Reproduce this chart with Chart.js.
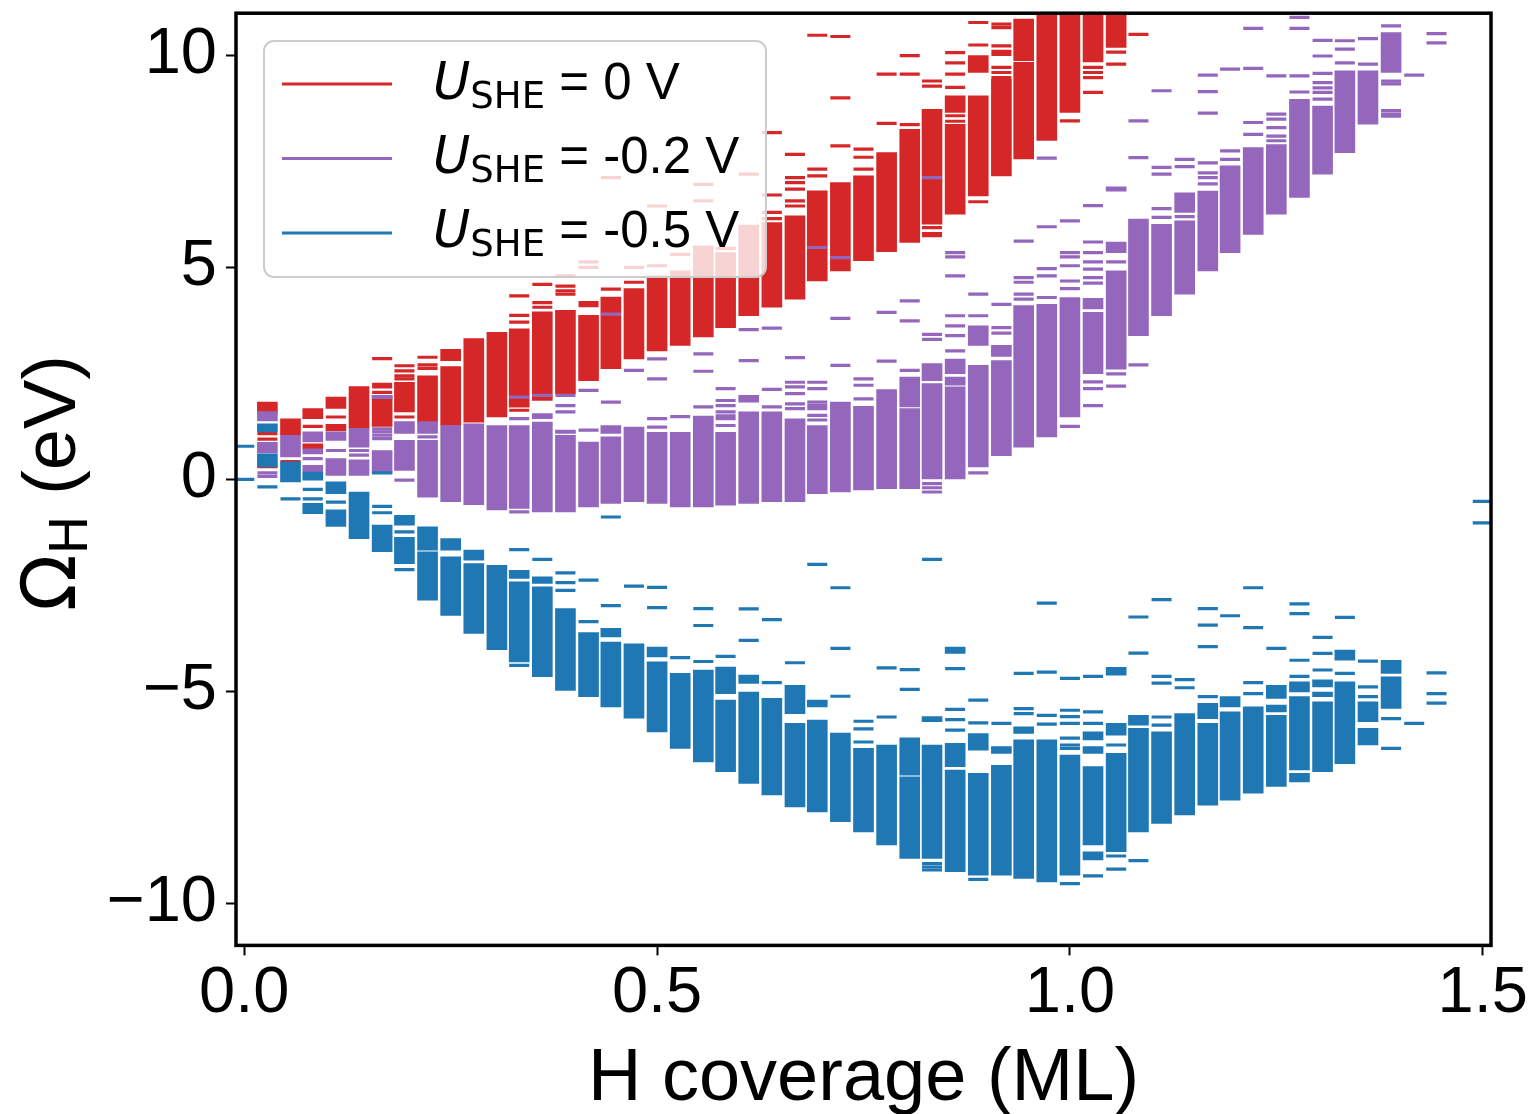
<!DOCTYPE html>
<html>
<head>
<meta charset="utf-8">
<title>H coverage vs Omega_H</title>
<script src="https://cdn.jsdelivr.net/npm/chart.js@4.4.1/dist/chart.umd.min.js"></script>
<style>
    body { margin: 0; background: #fff; }
    #wrap { position: relative; width: 1529px; height: 1114px; }
    #chart { position: absolute; left: 0; top: 0; }
    #overlay { position: absolute; left: 0; top: 0; pointer-events: none; }
    #overlay text { white-space: pre; }
</style>
</head>
<body>
<div id="wrap">
    <canvas id="chart" width="1529" height="1114"></canvas>
    <svg id="overlay" width="1529" height="1114">
        <!-- legend -->
        <rect x="264" y="41" width="502" height="236" rx="10" ry="10" fill="#ffffff" fill-opacity="0.8" stroke="#cccccc" stroke-width="2"/>
        <line x1="282" x2="392" y1="84" y2="84" stroke="#d62728" stroke-width="3"/>
        <line x1="282" x2="392" y1="158.5" y2="158.5" stroke="#9467bd" stroke-width="3"/>
        <line x1="282" x2="392" y1="233" y2="233" stroke="#1f77b4" stroke-width="3"/>
        <text id="leg0" x="433" y="98.5" font-size="51" fill="#000"></text>
        <text id="leg1" x="433" y="172.5" font-size="51" fill="#000"></text>
        <text id="leg2" x="433" y="246.5" font-size="51" fill="#000"></text>
        <!-- axis titles -->
        <text x="863.5" y="1100" text-anchor="middle" font-family="Liberation Sans, Arial, sans-serif" font-size="74" fill="#000">H coverage (ML)</text>
        <text transform="translate(75,483) rotate(-90)" text-anchor="middle" font-size="74" fill="#000"><tspan font-family="DejaVu Sans">Ω</tspan><tspan font-family="DejaVu Sans" font-size="52" dy="12">H</tspan><tspan font-family="Liberation Sans, Arial, sans-serif" dy="-12"> (eV)</tspan></text>
    </svg>
</div>

<script>
    // x positions of the coverage columns (ML)
    const coverage = [0.000, 0.028, 0.056, 0.083, 0.111, 0.139, 0.167, 0.194, 0.222, 0.250,
        0.278, 0.306, 0.333, 0.361, 0.389, 0.417, 0.444, 0.472, 0.500, 0.528,
        0.556, 0.583, 0.611, 0.639, 0.667, 0.694, 0.722, 0.750, 0.778, 0.806,
        0.833, 0.861, 0.889, 0.917, 0.944, 0.972, 1.000, 1.028, 1.056, 1.083,
        1.111, 1.139, 1.167, 1.194, 1.222, 1.250, 1.278, 1.306, 1.333, 1.361,
        1.389, 1.417, 1.444, 1.472, 1.500];

    const seriesLabels = ["0 V", "-0.2 V", "-0.5 V"];
    const xTicks = [0, 0.5, 1.0, 1.5];
    const yTicks = [-10, -5, 0, 5, 10];

    // dense runs of configurations: [column, low, high]   (U_SHE = 0 V)
    const blocksU0 = [
        [1, 1.55, 1.82], [2, 1.04, 1.43], [3, 1.43, 1.67], [3, 0.72, 0.84],
        [4, 1.67, 1.94], [4, 1.14, 1.30], [5, 1.20, 2.19], [6, 1.25, 1.97],
        [7, 1.59, 2.29], [8, 1.34, 2.44], [9, 2.80, 3.07], [9, 1.27, 2.66],
        [10, 1.35, 3.32], [11, 1.47, 3.47], [12, 1.70, 3.55], [13, 1.86, 3.95],
        [14, 2.02, 3.99], [15, 2.33, 3.87], [16, 2.61, 4.30], [17, 2.84, 4.50],
        [18, 3.03, 4.80], [19, 3.16, 4.92], [20, 3.36, 5.51], [21, 3.58, 5.35],
        [22, 3.86, 6.00], [23, 4.06, 6.06], [24, 4.25, 6.22], [25, 4.68, 6.81],
        [26, 4.92, 7.00], [27, 5.16, 7.16], [28, 5.37, 7.71], [29, 5.59, 8.26],
        [30, 6.02, 8.73], [31, 8.66, 9.05], [31, 6.26, 8.38], [32, 9.60, 10.00],
        [32, 6.69, 9.05], [33, 7.16, 9.44], [34, 9.88, 10.86], [34, 7.56, 9.84],
        [35, 8.00, 11.20], [36, 8.66, 11.20], [37, 9.85, 11.20], [38, 10.19, 11.20]
    ];
    // single configurations: [column, value]
    const dashesU0 = [
        [1, 1.08], [1, 0.95], [1, 0.30], [2, 0.42], [3, 1.25], [4, 1.47],
        [6, 2.85], [6, 2.24], [6, 2.18], [6, 2.05],
        [7, 2.68], [7, 2.56], [7, 2.44], [7, 2.37], [7, 1.47],
        [8, 2.88], [8, 2.70], [8, 2.62],
        [12, 4.33], [12, 3.87], [12, 3.71], [12, 1.63],
        [13, 4.60], [13, 4.17], [13, 4.06],
        [14, 4.80], [14, 4.56], [14, 4.45], [14, 4.37],
        [15, 5.13], [15, 5.00], [15, 4.17], [15, 4.10],
        [16, 7.12], [16, 4.49], [17, 5.00], [17, 4.65], [18, 6.45], [18, 5.04],
        [19, 5.31], [20, 6.96], [20, 6.57], [21, 5.45], [22, 7.20],
        [23, 8.18], [23, 6.71], [23, 6.30], [23, 6.15],
        [24, 7.67], [24, 7.12], [24, 7.00], [24, 6.85], [24, 6.57], [24, 6.45],
        [25, 10.48], [25, 7.32], [25, 7.16],
        [26, 10.45], [26, 9.00], [26, 7.87],
        [27, 7.79], [27, 7.60], [27, 7.32],
        [28, 9.56], [28, 8.40],
        [29, 10.00], [29, 9.56], [29, 8.37],
        [30, 9.40], [30, 9.28], [30, 5.94], [30, 5.80], [30, 5.75],
        [31, 10.07], [31, 9.83], [31, 9.56], [31, 9.25], [31, 8.58], [31, 8.45],
        [32, 10.78], [32, 10.25], [32, 6.55],
        [33, 10.74], [33, 10.66], [33, 10.23], [33, 10.10], [33, 10.03], [33, 9.72], [33, 9.60], [33, 9.48],
        [36, 8.46], [37, 9.72], [37, 9.60], [37, 9.48], [37, 9.13],
        [38, 10.08], [38, 9.80], [39, 10.50]
    ];

    // U_SHE = -0.2 V
    const blocksU02 = [
        [1, 1.38, 1.60], [1, 0.62, 0.87], [2, 0.53, 1.04],
        [3, 0.88, 1.12], [3, 0.60, 0.72], [3, 0.17, 0.33],
        [4, 0.92, 1.12], [4, 0.09, 0.49], [5, 0.76, 1.20], [5, 0.09, 0.46],
        [6, 1.90, 1.98], [6, 0.13, 0.68], [7, 1.08, 1.36], [7, 0.21, 0.92],
        [8, 1.08, 1.36], [8, -0.42, 0.92], [9, -0.53, 1.27], [10, -0.60, 1.31],
        [11, -0.72, 1.27], [12, -0.69, 1.27], [13, 1.43, 1.55], [13, -0.77, 1.35],
        [14, 1.08, 1.16], [14, -0.77, 1.04], [15, -0.65, 0.88],
        [16, 1.08, 1.27], [16, -0.57, 1.00], [17, -0.53, 1.23], [18, -0.57, 1.11],
        [19, -0.65, 1.11], [20, -0.65, 1.49], [21, -0.61, 1.11],
        [22, 1.82, 1.98], [22, -0.57, 1.59], [23, -0.53, 1.59], [24, -0.53, 1.43],
        [25, -0.34, 1.27], [26, -0.30, 1.82], [27, -0.25, 1.72], [28, -0.22, 2.12],
        [29, 1.71, 2.41], [29, -0.22, 1.67], [30, 2.33, 2.73], [30, 0.00, 2.26],
        [31, 2.49, 2.84], [31, 2.22, 2.41], [31, 0.00, 2.18],
        [32, 3.16, 3.62], [32, 0.29, 2.69], [33, 2.90, 3.16], [33, 0.56, 2.80],
        [34, 0.76, 4.10], [35, 1.00, 4.13], [36, 1.47, 4.29],
        [37, 4.02, 4.27], [37, 2.49, 3.94],
        [38, 6.80, 6.90], [38, 5.35, 5.60], [38, 2.60, 4.92],
        [39, 3.39, 6.14], [40, 3.86, 6.02], [41, 6.30, 6.76], [41, 4.37, 6.10],
        [42, 4.92, 6.80], [43, 5.35, 7.40], [44, 5.78, 7.83], [45, 6.26, 7.90],
        [46, 6.65, 8.97], [47, 7.20, 8.81], [48, 7.71, 9.64], [49, 8.38, 9.64],
        [50, 9.60, 10.54]
    ];
    const dashesU02 = [
        [1, 0.15], [1, 0.07], [3, 0.49], [4, 0.68], [5, 0.68], [5, 0.57],
        [6, 1.19], [6, 1.12], [6, 1.04], [6, 0.96], [7, -0.02], [8, 1.00], [8, -0.18],
        [12, 1.94], [12, 1.43], [12, -0.77], [13, 1.98],
        [14, 1.98], [14, 1.74], [14, 1.59], [15, 2.10], [15, 1.16],
        [16, 3.90], [16, 1.82], [17, 2.57],
        [18, 2.84], [18, 2.37], [18, 1.43], [18, 1.23], [19, 1.48],
        [20, 2.96], [20, 2.55], [20, 1.71],
        [21, 2.14], [21, 1.86], [21, 1.74], [21, 1.59], [21, 1.50], [21, 1.43], [21, 1.27],
        [22, 3.53], [22, 2.80], [23, 3.57], [23, 2.12], [23, 1.71],
        [24, 2.87], [24, 2.29], [24, 2.18], [24, 2.02], [24, 1.78], [24, 1.67],
        [25, 5.47], [25, 2.29], [25, 2.14], [25, 1.82], [25, 1.74], [25, 1.67], [25, 1.51], [25, 1.40],
        [26, 5.23], [26, 3.80], [26, 2.69], [27, 2.37], [27, 2.22], [27, 1.90],
        [28, 3.94], [28, 2.79], [29, 4.21], [29, 3.74], [29, 2.57],
        [30, 7.12], [30, 3.42], [30, 3.30], [30, -0.10], [30, -0.20], [30, -0.30],
        [31, 5.35], [31, 5.25], [31, 4.80], [31, 3.86], [31, 3.62], [31, 3.39], [31, 3.03],
        [32, 4.37], [32, 3.86], [32, 0.15], [33, 4.13], [33, 3.58], [33, 3.45],
        [34, 5.62], [34, 4.76], [34, 4.65], [34, 4.37], [34, 4.25],
        [35, 7.58], [35, 5.96], [35, 4.97], [35, 4.80], [35, 4.29],
        [36, 6.10], [36, 5.35], [36, 5.25], [36, 5.04], [36, 4.68], [36, 4.50], [36, 1.25],
        [37, 6.46], [37, 5.60], [37, 5.35], [37, 5.13], [37, 4.96], [37, 4.76], [37, 4.63],
        [37, 2.30], [37, 2.14], [37, 1.74],
        [38, 5.13], [38, 2.49], [38, 2.20], [39, 8.46], [39, 7.59], [39, 2.70],
        [40, 9.17], [40, 7.36], [40, 7.20], [40, 6.39], [40, 6.18],
        [41, 7.55], [41, 7.38], [41, 6.20],
        [42, 9.54], [42, 9.15], [42, 8.64], [42, 7.47], [42, 7.23], [42, 7.12], [42, 6.97],
        [43, 9.68], [43, 7.75], [43, 7.55], [44, 10.64], [44, 9.70], [44, 8.42], [44, 8.14],
        [45, 9.52], [45, 8.62], [45, 8.50], [45, 8.30], [45, 8.10], [45, 7.99],
        [46, 10.90], [46, 10.64], [46, 9.52], [46, 9.14],
        [47, 10.36], [47, 9.99], [47, 9.58], [47, 9.36], [47, 9.24], [47, 9.13], [47, 8.97],
        [48, 10.35], [48, 10.15], [48, 9.83], [49, 10.40], [49, 9.80],
        [50, 10.70], [50, 9.40], [50, 9.33], [50, 8.70], [50, 8.62], [50, 8.57],
        [51, 9.54], [52, 10.52], [52, 10.30]
    ];

    // U_SHE = -0.5 V
    const blocksU05 = [
        [1, 1.12, 1.31], [1, 0.29, 0.60], [2, -0.06, 0.41],
        [3, -0.02, 0.17], [3, -0.81, -0.57], [4, -0.34, -0.06], [4, -1.11, -0.72],
        [5, -1.40, -0.30], [6, -1.71, -1.08], [7, -1.08, -0.85], [7, -1.99, -1.37],
        [8, -1.67, -1.12], [8, -2.85, -1.71], [9, -1.67, -1.40], [9, -3.21, -1.83],
        [10, -1.91, -1.67], [10, -3.64, -1.99], [11, -4.02, -2.03],
        [12, -2.34, -2.15], [12, -4.31, -2.42], [13, -2.46, -2.30], [13, -4.66, -2.54],
        [14, -4.98, -3.05], [15, -5.13, -3.62], [16, -3.72, -3.52], [16, -5.37, -3.84],
        [17, -5.64, -3.88], [18, -4.19, -3.96], [18, -5.96, -4.31], [19, -6.35, -4.58],
        [20, -6.67, -4.50], [21, -5.06, -4.43], [21, -6.90, -5.21],
        [22, -4.82, -4.62], [22, -7.18, -5.02], [23, -7.45, -5.17],
        [24, -5.53, -4.86], [24, -7.73, -5.76], [25, -5.37, -5.21], [25, -7.85, -5.68],
        [26, -8.08, -5.99], [27, -8.32, -6.35], [28, -8.63, -6.27],
        [29, -6.98, -6.10], [29, -8.95, -7.02], [30, -5.72, -5.60], [30, -8.95, -6.27],
        [31, -4.11, -3.96], [31, -6.78, -6.23], [31, -9.26, -6.86],
        [32, -6.39, -6.00], [32, -9.34, -6.94], [33, -6.47, -6.31], [33, -9.34, -6.75],
        [34, -6.00, -5.84], [34, -9.42, -6.15], [35, -9.50, -6.15], [36, -9.34, -6.51],
        [37, -6.15, -5.96], [37, -6.47, -6.31], [37, -8.63, -6.78], [37, -8.98, -8.79],
        [38, -4.62, -4.44], [38, -6.04, -5.76], [38, -8.79, -6.47],
        [39, -5.80, -5.57], [39, -8.32, -5.88], [40, -8.12, -5.96], [41, -7.92, -5.53],
        [42, -5.65, -5.29], [42, -7.69, -5.76], [43, -5.37, -5.13], [43, -7.57, -5.49],
        [44, -7.41, -5.37], [45, -5.17, -4.86], [45, -5.49, -5.33], [45, -7.25, -5.57],
        [46, -5.02, -4.78], [46, -6.86, -5.13], [46, -7.14, -6.94],
        [47, -4.90, -4.73], [47, -5.13, -5.02], [47, -6.90, -5.25],
        [48, -4.27, -4.03], [48, -6.71, -4.78], [49, -5.72, -5.25], [49, -6.27, -5.88],
        [50, -4.58, -4.27], [50, -5.41, -4.66]
    ];
    const dashesU05 = [
        [0, 0.78], [0, 0.00], [1, -0.18], [2, -0.46], [3, -0.24], [3, -0.46], [4, -0.54],
        [6, 0.15], [6, -0.64], [6, -0.79], [7, -1.24], [7, -2.13],
        [12, -1.66], [12, -4.39], [13, -1.89], [14, -2.21], [14, -2.44], [14, -2.62],
        [15, -2.38], [15, -3.36], [16, -0.89], [16, -2.98], [17, -2.52],
        [18, -2.55], [18, -3.03], [19, -4.21], [20, -3.05], [20, -3.45], [20, -4.30],
        [21, -4.18], [22, -3.06], [22, -3.80], [23, -3.31], [23, -4.80], [24, -4.33],
        [25, -2.01], [26, -2.56], [26, -3.99], [26, -5.12],
        [27, -5.71], [27, -5.89], [27, -6.20], [28, -4.45], [28, -5.61],
        [29, -4.49], [29, -4.96], [30, -1.89], [30, -9.07], [30, -9.15], [30, -9.22],
        [31, -4.47], [31, -5.43], [31, -5.67], [31, -5.92],
        [32, -5.21], [32, -5.75], [32, -9.44], [33, -5.76],
        [34, -4.58], [34, -5.41], [34, -5.53], [35, -2.92], [35, -4.55], [35, -5.57], [35, -5.78],
        [36, -4.70], [36, -5.45], [36, -5.60], [36, -5.76], [36, -6.11], [36, -6.27], [36, -6.35], [36, -9.54],
        [37, -4.65], [37, -5.49], [37, -5.76], [37, -9.36], [38, -6.27], [38, -8.89], [38, -9.20],
        [39, -3.25], [39, -4.10], [39, -9.00],
        [40, -2.84], [40, -4.65], [40, -4.81], [40, -5.61], [40, -5.80], [41, -4.73], [41, -4.92],
        [42, -3.05], [42, -3.44], [42, -3.95], [42, -5.13], [43, -3.22],
        [44, -2.56], [44, -3.50], [44, -4.80], [44, -5.06], [45, -3.99],
        [46, -2.94], [46, -3.17], [46, -4.27], [46, -4.65], [47, -3.73], [47, -4.11], [47, -4.50],
        [48, -3.26], [48, -4.58], [49, -4.29], [49, -4.90], [49, -5.13],
        [50, -5.65], [50, -6.35], [51, -5.76], [52, -4.57], [52, -5.06], [52, -5.28],
        [54, -0.52], [54, -1.03]
    ];

    const colors = ["#d62728", "#9467bd", "#1f77b4"];
    const tickFont = { family: "'Liberation Sans', Arial, sans-serif", size: 65 };

    function blockData(blocks) {
        return blocks.map(b => ({ x: coverage[b[0]], y: [b[1], b[2]] }));
    }

    function dashData(dashes) {
        return dashes.map(d => ({ x: coverage[d[0]], y: d[1] }));
    }

    function blockSet(blocks, color, order) {
        return {
            type: "bar",
            data: blockData(blocks),
            backgroundColor: color,
            borderWidth: 0,
            barThickness: 20,
            grouped: false,
            clip: 0,
            order: order
        };
    }

    function dashSet(dashes, color, order) {
        return {
            type: "scatter",
            data: dashData(dashes),
            pointStyle: "line",
            pointRadius: 10,
            pointHoverRadius: 10,
            borderColor: color,
            backgroundColor: color,
            borderWidth: 3.2,
            showLine: false,
            clip: 0,
            order: order
        };
    }

    // black box round the plot area, like matplotlib spines
    const framePlugin = {
        id: "frame",
        afterDatasetsDraw(chart) {
            const a = chart.chartArea;
            const ctx = chart.ctx;
            ctx.save();
            ctx.strokeStyle = "#000";
            ctx.lineWidth = 3.5;
            ctx.strokeRect(a.left, a.top, a.right - a.left, a.bottom - a.top);
            ctx.restore();
        }
    };

    // legend texts: italic U, subscript SHE, then the potential
    function fillLegend(id, label) {
        const el = document.getElementById(id);
        const ns = "http://www.w3.org/2000/svg";
        const parts = [
            { text: "U", family: "DejaVu Sans", style: "italic", size: 51, dy: 0 },
            { text: "SHE", family: "DejaVu Sans", style: "normal", size: 37, dy: 9 },
            { text: " = " + label, family: "Liberation Sans, Arial, sans-serif", style: "normal", size: 51, dy: -9 }
        ];
        parts.forEach(p => {
            const t = document.createElementNS(ns, "tspan");
            t.setAttribute("font-family", p.family);
            t.setAttribute("font-style", p.style);
            t.setAttribute("font-size", p.size);
            if (p.dy) t.setAttribute("dy", p.dy);
            t.textContent = p.text;
            el.appendChild(t);
        });
    }
    seriesLabels.forEach((lab, i) => fillLegend("leg" + i, lab));

    new Chart(document.getElementById("chart"), {
        type: "bar",
        data: {
            datasets: [
                blockSet(blocksU0, colors[0], 6),
                dashSet(dashesU0, colors[0], 5),
                blockSet(blocksU02, colors[1], 4),
                dashSet(dashesU02, colors[1], 3),
                blockSet(blocksU05, colors[2], 2),
                dashSet(dashesU05, colors[2], 1)
            ]
        },
        options: {
            responsive: false,
            devicePixelRatio: 1,
            animation: false,
            events: [],
            layout: { padding: { left: 0, top: 12.6, right: 38, bottom: 0 } },
            plugins: {
                legend: { display: false },
                tooltip: { enabled: false }
            },
            scales: {
                x: {
                    type: "linear",
                    min: -0.01,
                    max: 1.51,
                    offset: false,
                    afterBuildTicks: scale => { scale.ticks = xTicks.map(v => ({ value: v })); },
                    afterFit: scale => { scale.height = 168.6; scale.paddingLeft = 0; scale.paddingRight = 0; },
                    ticks: {
                        font: tickFont,
                        color: "#000",
                        padding: 0,
                        maxRotation: 0,
                        autoSkip: false,
                        callback: v => Number(v).toFixed(1)
                    },
                    grid: { display: true, drawOnChartArea: false, drawTicks: true, tickLength: 10, tickWidth: 2, tickColor: "#000", offset: false },
                    border: { display: false }
                },
                y: {
                    type: "linear",
                    min: -11,
                    max: 11,
                    afterBuildTicks: scale => { scale.ticks = yTicks.map(v => ({ value: v })); },
                    afterFit: scale => { scale.width = 236; scale.paddingTop = 0; scale.paddingBottom = 0; },
                    ticks: {
                        font: tickFont,
                        color: "#000",
                        padding: 9,
                        autoSkip: false,
                        callback: v => v < 0 ? "\u2212" + Math.abs(v) : String(v)
                    },
                    grid: { display: true, drawOnChartArea: false, drawTicks: true, tickLength: 10, tickWidth: 2, tickColor: "#000" },
                    border: { display: false }
                }
            }
        },
        plugins: [framePlugin]
    });
</script>
</body>
</html>
